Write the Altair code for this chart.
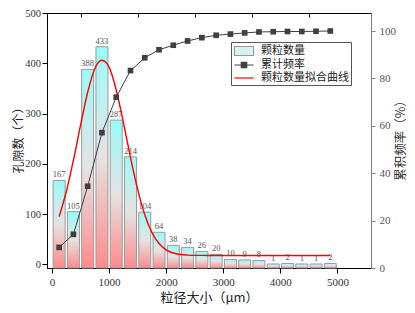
import altair as alt
import pandas as pd

# ---------------- data ----------------
bin_centers = [125, 375, 625, 875, 1125, 1375, 1625, 1875, 2125, 2375,
               2625, 2875, 3125, 3375, 3625, 3875, 4125, 4375, 4625, 4875]
counts = [167, 105, 388, 433, 287, 214, 104, 64, 38, 34,
          26, 20, 10, 9, 8, 1, 2, 1, 1, 2]
cum_freq = [8.7, 14.2, 34.5, 57.1, 72.1, 83.3, 88.7, 92.1, 94.0, 95.8,
            97.2, 98.2, 98.7, 99.2, 99.6, 99.7, 99.8, 99.8, 99.9, 100.0]
fit_x = [125, 250, 375, 500, 625, 750, 875, 1000, 1125, 1250, 1375, 1500, 1625,
         1750, 1875, 2000, 2125, 2250, 2375, 2500, 2750, 3000, 3500, 4000, 4500, 4875]
fit_y = [95.5, 144.6, 207.3, 277.0, 342.4, 389.8, 406.0, 392.4, 347.0, 282.6, 212.7,
         149.2, 98.9, 63.6, 41.6, 29.1, 22.8, 19.9, 18.7, 18.2, 18.0, 18.0, 18.0,
         18.0, 18.0, 18.0]
series_names = ["颗粒数量", "累计频率", "颗粒数量拟合曲线"]

X_MIN, X_MAX = 0, 5500
Y_MIN, Y_MAX = -7, 500
R_MIN, R_MAX = 0, 107.6

hist = pd.DataFrame({"x": bin_centers, "n": counts, "cum": cum_freq})
fit = pd.DataFrame({"x": fit_x, "y": fit_y})
leg = pd.DataFrame({"series": series_names})

serif = "Liberation Serif"
cjk = "Noto Sans CJK SC"

xscale = alt.Scale(domain=[X_MIN, X_MAX], nice=False, zero=False)
yscale_l = alt.Scale(domain=[Y_MIN, Y_MAX], nice=False, zero=False)
yscale_r = alt.Scale(domain=[R_MIN, R_MAX], nice=False, zero=False)

x_axis = alt.Axis(
    values=[0, 500, 1000, 1500, 2000, 2500, 3000, 3500, 4000, 4500, 5000],
    labelExpr="datum.value % 1000 === 0 ? datum.label : ''",
    format="d",
    tickSize={"condition": {"test": "datum.value % 1000 === 0", "value": 5}, "value": 3},
    title="粒径大小（μm）", titleFont=cjk, titleFontSize=13, titleFontWeight="normal",
    titleColor="#222", titleX=162, titleY=29, titleAlign="center", titleBaseline="middle",
    labelFont=serif, labelFontSize=11, labelColor="#333", labelPadding=3,
    labelFlush=False, labelOverlap=False,
    domainColor="#000", tickColor="#000", grid=False,
)

top_axis = alt.Axis(
    orient="top", values=[500, 1000, 1500, 2000, 2500, 3000, 3500, 4000, 4500, 5000],
    labels=False, domain=False, title=None, tickSize=4, offset=-4,
    tickColor="#000", grid=False,
)

y_axis = alt.Axis(
    values=[0, 50, 100, 150, 200, 250, 300, 350, 400, 450, 500],
    labelExpr="datum.value % 100 === 0 ? datum.label : ''",
    tickSize={"condition": {"test": "datum.value % 100 === 0", "value": 5}, "value": 3},
    title="孔隙数（个）", titleFont=cjk, titleFontSize=12, titleFontWeight="normal",
    titleColor="#222", titleX=-29, titleY=124, titleAngle=270,
    titleAlign="center", titleBaseline="middle",
    labelFont=serif, labelFontSize=10.5, labelColor="#333", labelPadding=1.5,
    labelFlush=False, labelOverlap=False,
    domainColor="#000", tickColor="#000", grid=False,
)

r_axis = alt.Axis(
    orient="right",
    values=[0, 10, 20, 30, 40, 50, 60, 70, 80, 90, 100],
    labelExpr="datum.value % 20 === 0 ? datum.label : ''",
    tickSize={"condition": {"test": "datum.value % 20 === 0", "value": 4}, "value": 2.5},
    title="累积频率（%）", titleFont=cjk, titleFontSize=12.5, titleFontWeight="normal",
    titleColor="#333", titleX=29, titleY=124, titleAngle=270,
    titleAlign="center", titleBaseline="middle",
    labelFont=serif, labelFontSize=11, labelColor="#555", labelPadding=4,
    labelFlush=False, labelOverlap=False,
    domainColor="#808080", tickColor="#808080", grid=False,
)

grad = alt.LinearGradient(
    gradient="linear",
    stops=[alt.GradientStop(color="#99fbfb", offset=0),
           alt.GradientStop(color="#e6e2e2", offset=0.5),
           alt.GradientStop(color="#ff8a8a", offset=1)],
    x1=0, x2=0, y1=0, y2=1,
)

bars = alt.Chart(hist).mark_bar(
    size=12, color=grad, stroke="#9a9a9a", strokeWidth=1
).encode(
    x=alt.X("x:Q", scale=xscale, axis=x_axis),
    y=alt.Y("n:Q", scale=yscale_l, axis=y_axis),
    y2=alt.datum(Y_MIN),
)

bar_labels = alt.Chart(hist).mark_text(
    font=serif, fontSize=8.5, color="#555", baseline="bottom", dy=-1
).encode(x="x:Q", y="n:Q", text="n:Q")

fit_line = alt.Chart(fit).mark_line(
    color="#ff0000", strokeWidth=1.4, interpolate="monotone"
).encode(x="x:Q", y="y:Q")

shape_rng = [
    "M-1.6,-0.75H1.6V0.75H-1.6Z",
    "M-1.6,0H1.6M-0.45,-0.45H0.45V0.45H-0.45Z",
    "M-1.6,0H1.6",
]
fill_rng = ["#d6f2f0", "#404040", "transparent"]
stroke_rng = ["#9a9a9a", "#404040", "#ff0000"]
lg = alt.Legend(orient="none", legendX=184, legendY=29)

legend_layer = alt.Chart(leg).transform_filter("false").mark_point(
    filled=True, opacity=1
).encode(
    fill=alt.Fill("series:N", scale=alt.Scale(domain=series_names, range=fill_rng),
                  legend=lg, title=None),
    stroke=alt.Stroke("series:N", scale=alt.Scale(domain=series_names, range=stroke_rng),
                      legend=lg, title=None),
    shape=alt.Shape("series:N", scale=alt.Scale(domain=series_names, range=shape_rng),
                    legend=lg, title=None),
)

cum_line = alt.Chart(hist).mark_line(color="#404040", strokeWidth=1).encode(
    x=alt.X("x:Q", scale=xscale, axis=top_axis),
    y=alt.Y("cum:Q", scale=yscale_r, axis=r_axis),
)
cum_pts = alt.Chart(hist).mark_point(
    shape="square", filled=True, color="#404040", size=32, opacity=1
).encode(x="x:Q", y="cum:Q")

left = alt.layer(bars, bar_labels, fit_line, legend_layer)
right = alt.layer(cum_line, cum_pts)

chart = alt.layer(left, right).resolve_scale(
    y="independent"
).resolve_axis(
    x="independent"
).properties(
    width=324, height=255,
    padding={"left": 39, "top": 5, "right": 36, "bottom": 37},
    autosize=alt.AutoSizeParams(type="none"),
    background="white",
).configure_view(
    stroke="#000", strokeWidth=1
).configure_legend(
    strokeColor="#555", fillColor="white", padding=2, symbolSize=144,
    symbolStrokeWidth=1.2, labelFont=cjk, labelFontSize=11, labelColor="#222",
    rowPadding=0, symbolOffset=4, labelOffset=10, cornerRadius=0, labelLimit=200,
)

chart.save("out.html", embed_options={"renderer": "svg", "actions": False})
